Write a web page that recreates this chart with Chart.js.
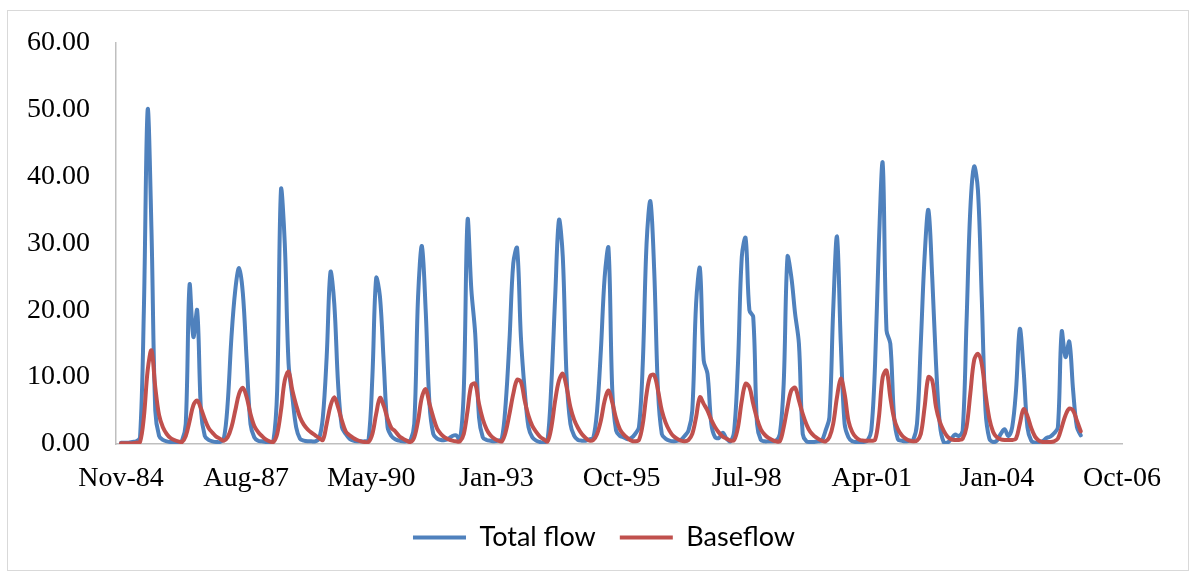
<!DOCTYPE html>
<html>
<head>
<meta charset="utf-8">
<title>Total flow and Baseflow</title>
<script src="https://cdn.jsdelivr.net/npm/chart.js@4.4.1/dist/chart.umd.min.js"></script>
<style>
    body { margin: 0; background: #fff; }
    #wrap { position: relative; width: 1191px; height: 572px; }
    #frame {
        position: absolute; left: 7px; top: 10px; width: 1182px; height: 561px;
        border: 1px solid #d9d9d9; box-sizing: border-box; pointer-events: none;
    }
    canvas { position: absolute; left: 0; top: 0; }
</style>
</head>
<body>
<div id="wrap">
    <canvas id="flowChart" width="1191" height="572"></canvas>
    <div id="frame"></div>
</div>
<script>
// Monthly series starting Nov-1984 (one value per month)
const totalFlow = [
    0.2, 0.2, 0.2, 0.3, 0.4, 1.0, 20, 50, 32, 5, 1.2, 0.6,
    0.4, 0.3, 0.3, 0.3, 0.5, 3, 23.8, 16, 20, 5, 1.2, 0.6,
    0.4, 0.3, 0.3, 0.8, 6, 16, 23, 26.3, 22.5, 12.5, 3, 1,
    0.5, 0.4, 0.3, 0.3, 0.4, 8, 38, 30, 12, 7, 2.5, 0.8,
    0.5, 0.4, 0.4, 0.4, 0.8, 4, 13, 25.7, 21, 9, 2.5, 1.5,
    0.8, 0.5, 0.4, 0.4, 0.4, 0.6, 10, 24.8, 22, 12, 2.5, 1.2,
    0.7, 0.5, 0.4, 0.4, 0.5, 3, 22, 29.6, 20, 6, 1.5, 0.8,
    0.6, 0.6, 0.8, 1.2, 1.3, 0.6, 8, 33.5, 23, 16.5, 4, 1,
    0.6, 0.5, 0.4, 0.5, 0.8, 6, 15.5, 27, 29.3, 16, 8, 2.5,
    1, 0.5, 0.3, 0.2, 0.6, 9, 22, 33.5, 28, 10, 3, 1.2,
    0.6, 0.5, 0.5, 0.7, 0.9, 5, 14, 25, 29.3, 8, 2, 1.2,
    1, 0.7, 0.9, 1.5, 2.5, 12, 30, 36.3, 26, 8, 1.5, 0.8,
    0.5, 0.4, 0.5, 0.6, 1.2, 2, 5, 21, 26.3, 12.5, 10.5, 3,
    1, 0.9, 1.7, 0.8, 0.4, 2, 12, 28, 30.8, 20, 19, 3,
    0.6, 0.4, 0.4, 0.4, 0.5, 1.5, 9, 28, 25, 19.5, 15, 1.5,
    0.4, 0.3, 0.3, 0.4, 0.5, 2, 4, 20, 31, 15, 3, 1,
    0.4, 0.3, 0.3, 0.3, 0.5, 2, 12, 30, 42, 17, 15, 4,
    0.7, 0.5, 0.4, 0.5, 0.6, 3, 15, 28, 35, 25, 12, 3,
    0.3, 0.2, 0.8, 1.4, 1.2, 2, 18, 35, 41.5, 38, 22, 5,
    0.8, 0.3, 0.5, 1.5, 2.2, 1.2, 2.5, 8, 17.2, 11, 2.5, 0.5,
    0.2, 0.3, 0.4, 0.9, 1.1, 1.6, 2.5, 16.8, 13, 15.3, 8, 2.5,
    1.3
];

const baseflow = [
    0.1, 0.1, 0.1, 0.1, 0.2, 0.3, 4, 11, 14, 8.5, 4.3, 2.5,
    1.5, 0.9, 0.6, 0.4, 0.3, 1.2, 3.4, 5.8, 6.5, 5.3, 3.7, 2.4,
    1.7, 1.1, 0.8, 0.5, 1, 2.5, 5, 7.5, 8.4, 7, 4.5, 2.7,
    1.8, 1.2, 0.7, 0.4, 0.3, 1.5, 5, 9.5, 10.8, 8, 5.8, 4,
    2.9, 2.2, 1.7, 1.3, 0.9, 0.6, 3, 5.7, 7, 5.5, 3.5, 1.9,
    1.3, 0.9, 0.6, 0.4, 0.3, 0.3, 1.5, 4.5, 6.9, 5.7, 3.8, 2.4,
    1.9, 1.2, 0.8, 0.5, 0.3, 1, 3.5, 7, 8.2, 6, 4, 2.3,
    1.5, 1, 0.7, 0.5, 0.4, 0.4, 1.5, 5, 8.8, 9, 6, 3.7,
    2.2, 1.3, 0.8, 0.5, 0.4, 1.8, 4.5, 7.5, 9.6, 9.3, 6.5, 4.2,
    2.7, 1.8, 1.1, 0.7, 0.4, 2.5, 6.5, 9.5, 10.5, 8.5, 5.5, 3.6,
    2.4, 1.5, 0.9, 0.5, 0.6, 1.5, 3.5, 6.5, 8, 6.2, 3.8, 2.2,
    1.4, 0.9, 0.5, 0.4, 0.6, 3, 7.5, 10.2, 10.3, 8, 5, 3.2,
    2, 1.2, 0.8, 0.5, 0.4, 0.6, 1.5, 4, 7, 6, 5, 3.6,
    2.5, 1.7, 1.1, 0.8, 0.5, 0.6, 2.5, 6.5, 9, 8.5, 6, 3.8,
    2.2, 1.4, 0.9, 0.6, 0.4, 0.4, 2.5, 5.5, 8, 8.4, 6.5, 4.5,
    2.9, 1.8, 1.2, 0.8, 0.5, 0.4, 1, 3, 7, 9.8, 7.5, 3.5,
    1.8, 1, 0.6, 0.5, 0.5, 0.5, 0.6, 4, 10, 11, 7, 3.8,
    2.2, 1.3, 0.8, 0.5, 0.4, 0.5, 1.5, 5.5, 10, 9.5, 5.5, 3.3,
    2, 1.1, 0.7, 0.6, 0.6, 0.8, 2.5, 7.5, 12.5, 13.5, 12, 7.5,
    3.8, 1.8, 1, 0.7, 0.6, 0.6, 0.6, 0.8, 3, 5.2, 4.2, 2.4,
    1.1, 0.5, 0.3, 0.3, 0.3, 0.4, 0.8, 2.5, 4.3, 5.3, 5, 3.5,
    1.9
];

// x axis: days since Nov-84, a label every 1000 days
const tickLabels = ['Nov-84', 'Aug-87', 'May-90', 'Jan-93', 'Oct-95', 'Jul-98', 'Apr-01', 'Jan-04', 'Oct-06'];
const daysPerMonth = 365.25 / 12;
const tickStep = 1000;
const axisStart = -40; // the axis begins a little before the first month

const seriesNames = ['Total flow', 'Baseflow'];
const seriesColors = ['#4F81BD', '#C0504D'];

const toPoints = values => values.map((v, i) => ({ x: i * daysPerMonth, y: v }));

const axisFont = { family: '"Liberation Serif", "Times New Roman", serif', size: 28 };
const legendFont = { family: 'Lato, Carlito, Calibri, sans-serif', size: 27 };

new Chart(document.getElementById('flowChart'), {
    type: 'line',
    data: {
        datasets: [
            {
                label: seriesNames[0],
                data: toPoints(totalFlow),
                borderColor: seriesColors[0],
                backgroundColor: seriesColors[0],
                borderWidth: 4,
                order: 1
            },
            {
                label: seriesNames[1],
                data: toPoints(baseflow),
                borderColor: seriesColors[1],
                backgroundColor: seriesColors[1],
                borderWidth: 4,
                order: 0
            }
        ]
    },
    options: {
        responsive: false,
        animation: false,
        elements: {
            point: { radius: 0 },
            line: { tension: 0.35, borderCapStyle: 'round', borderJoinStyle: 'round' }
        },
        layout: { padding: { left: 17, right: 0, top: 40, bottom: 11 } },
        scales: {
            x: {
                type: 'linear',
                min: axisStart,
                max: tickStep * (tickLabels.length - 1),
                grid: { display: false, drawTicks: false },
                border: { color: '#bfbfbf', width: 1.5 },
                afterBuildTicks: scale => {
                    scale.ticks = tickLabels.map((t, i) => ({ value: i * tickStep }));
                },
                ticks: {
                    autoSkip: false,
                    maxRotation: 0,
                    padding: 18,
                    color: '#000',
                    font: axisFont,
                    callback: (value, index) => tickLabels[index]
                },
                afterFit: scale => { scale.height = 56; }
            },
            y: {
                min: 0,
                max: 60,
                grid: { display: false, drawTicks: false },
                border: { color: '#bfbfbf', width: 1.5 },
                ticks: {
                    stepSize: 10,
                    padding: 26,
                    color: '#000',
                    font: axisFont,
                    callback: value => value.toFixed(2)
                },
                afterFit: scale => { scale.width = 99; }
            },
            // empty right-hand axis, only keeps the space to the right of the plot
            spacer: {
                position: 'right',
                grid: { display: false, drawTicks: false },
                border: { display: false },
                ticks: { display: false },
                afterFit: scale => { scale.width = 69; }
            }
        },
        plugins: {
            tooltip: { enabled: false },
            legend: {
                position: 'bottom',
                labels: {
                    usePointStyle: true,
                    pointStyle: 'line',
                    pointStyleWidth: 53,
                    padding: 24,
                    color: '#000',
                    font: legendFont,
                    sort: (a, b) => a.datasetIndex - b.datasetIndex
                }
            }
        }
    }
});
</script>
</body>
</html>
